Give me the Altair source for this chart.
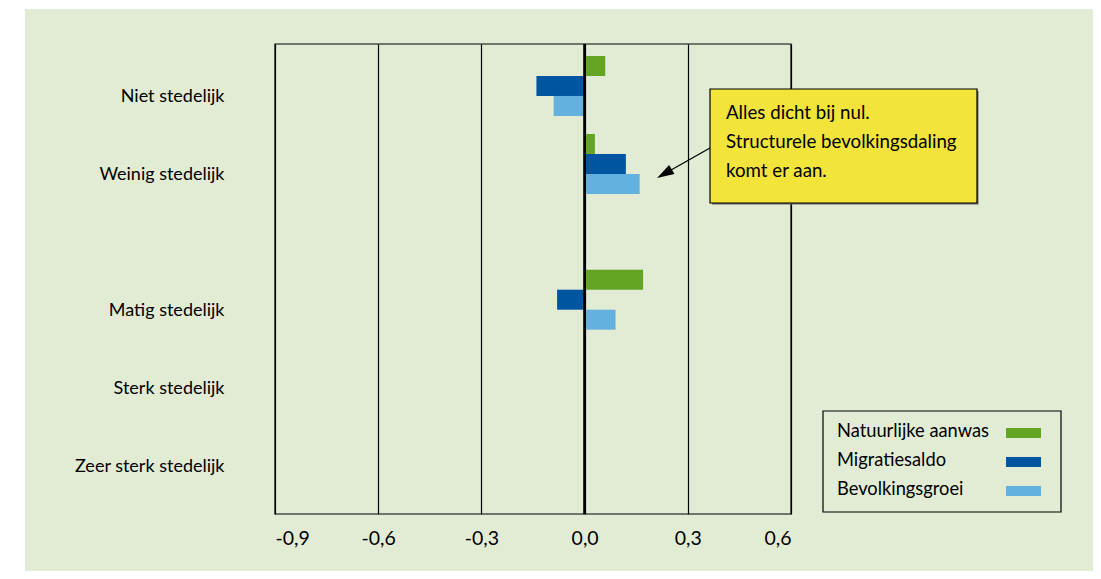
import altair as alt
import pandas as pd

# ---- data ----
categories = ["Niet stedelijk", "Weinig stedelijk", "Matig stedelijk",
              "Sterk stedelijk", "Zeer sterk stedelijk"]
cat_pos = [0, 1, 2.74, 3.74, 4.74]          # vertical slot of each category
series = ["Natuurlijke aanwas", "Migratiesaldo", "Bevolkingsgroei"]
natuurlijke_aanwas = [0.06, 0.03, 0.17, None, None]
migratiesaldo = [-0.14, 0.12, -0.08, None, None]
bevolkingsgroei = [-0.09, 0.16, 0.09, None, None]
x_ticks = [-0.9, -0.6, -0.3, 0.0, 0.3, 0.6]
note_lines = ["Alles dicht bij nul.", "Structurele bevolkingsdaling", "komt er aan."]

colors = ["#63a522", "#0055a0", "#63b1de"]
BG = "#e2ecd5"
FONT = "Lato"

W, H = 516, 470
PAD = {"left": 267, "top": 36, "right": 302, "bottom": 57}

# ---- bars table ----
bh = 20 / 78
rows = []
for k, (s, vals) in enumerate(zip(series, [natuurlijke_aanwas, migratiesaldo, bevolkingsgroei])):
    for c, p, v in zip(categories, cat_pos, vals):
        if v is None:
            continue
        y0 = p + (k - 2) * bh - 0.013
        rows.append({"cat": c, "series": s, "value": v, "y0": y0, "y1": y0 + bh})
bars_df = pd.DataFrame(rows)

label_expr = ""
for p, c in zip(cat_pos, categories):
    label_expr += f"abs(datum.value - {p}) < 0.01 ? '{c}' : "
label_expr += "''"

xscale = alt.Scale(domain=[-0.9, 0.6], nice=False, zero=False)
yscale = alt.Scale(domain=[-0.679, 5.346], nice=False, zero=False, reverse=True)

bars = alt.Chart(bars_df).mark_bar().encode(
    x=alt.X("value:Q", scale=xscale, title=None,
            axis=alt.Axis(values=x_ticks, format=".1f",
                          labelExpr="replace(replace(datum.label, '.', ','), '\u2212', '-')",
                          ticks=False, domain=False, grid=True,
                          gridColor="black", gridWidth=1.2, gridOpacity=1,
                          labelFontSize=19.5, labelPadding=15, labelColor="black",
                          labelFont=FONT)),
    x2=alt.datum(0),
    y=alt.Y("y0:Q", scale=yscale, title=None,
            axis=alt.Axis(values=cat_pos, labelExpr=label_expr, ticks=False,
                          domain=False, grid=False, labelFontSize=18,
                          labelPadding=51, labelColor="black", labelFont=FONT)),
    y2="y1:Q",
    color=alt.Color("series:N", scale=alt.Scale(domain=series, range=colors), legend=None),
)

zero_line = alt.Chart(pd.DataFrame({"x": [0.0]})).mark_rule(
    color="black", strokeWidth=2.8).encode(x=alt.X("x:Q", scale=xscale))

one = pd.DataFrame({"a": [0]})

border = alt.Chart(one).mark_rect(filled=False, stroke="black", strokeWidth=1.2).encode(
    x=alt.value(0), x2=alt.value(W), y=alt.value(0), y2=alt.value(H))

# white strips (page area outside the green panel)
strip_left = alt.Chart(one).mark_rect(color="white").encode(
    x=alt.value(-PAD["left"]), x2=alt.value(-PAD["left"] + 17),
    y=alt.value(-PAD["top"]), y2=alt.value(H + PAD["bottom"]))
strip_top = alt.Chart(one).mark_rect(color="white").encode(
    x=alt.value(-PAD["left"]), x2=alt.value(W + PAD["right"]),
    y=alt.value(-PAD["top"]), y2=alt.value(-PAD["top"] + 1))

# annotation
arrow_line = alt.Chart(one).mark_rule(color="black", strokeWidth=1.3).encode(
    x=alt.value(435), y=alt.value(104), x2=alt.value(389), y2=alt.value(130))
arrow_head = alt.Chart(one).mark_point(
    shape="M0,-1L-0.62,1L0.62,1Z", filled=True, color="black", opacity=1,
    size=289, angle=240).encode(x=alt.value(389.4), y=alt.value(129.8))
note_shadow = alt.Chart(one).mark_rect(color="#666666").encode(
    x=alt.value(437), x2=alt.value(703.5), y=alt.value(47), y2=alt.value(160.5))
note_box = alt.Chart(one).mark_rect(fill="#f2e43b", stroke="black", strokeWidth=1.2).encode(
    x=alt.value(435), x2=alt.value(702), y=alt.value(45), y2=alt.value(159))
note_texts = [
    alt.Chart(one).mark_text(text=t, align="left", baseline="alphabetic",
                             font=FONT, fontSize=18.7, color="black").encode(
        x=alt.value(451), y=alt.value(75 + 29 * i))
    for i, t in enumerate(note_lines)
]

# legend
legend_box = alt.Chart(one).mark_rect(filled=False, stroke="black", strokeWidth=1.2).encode(
    x=alt.value(548), x2=alt.value(786), y=alt.value(367), y2=alt.value(468))
legend_layers = []
for i, (s, c) in enumerate(zip(series, colors)):
    legend_layers.append(
        alt.Chart(one).mark_text(text=s, align="left", baseline="alphabetic",
                                 font=FONT, fontSize=18.3, color="black").encode(
            x=alt.value(562), y=alt.value(393 + 29 * i)))
    legend_layers.append(
        alt.Chart(one).mark_rect(color=c).encode(
            x=alt.value(731), x2=alt.value(766),
            y=alt.value(384 + 29 * i), y2=alt.value(394 + 29 * i)))

chart = alt.layer(
    strip_left, strip_top, bars, zero_line, border,
    arrow_line, arrow_head, note_shadow, note_box, *note_texts,
    legend_box, *legend_layers,
).properties(
    width=W, height=H, background=BG, padding=PAD,
    autosize=alt.AutoSizeParams(type="none"),
).configure_view(stroke="transparent")

chart.save("out.html", embed_options={"renderer": "svg", "actions": False})
